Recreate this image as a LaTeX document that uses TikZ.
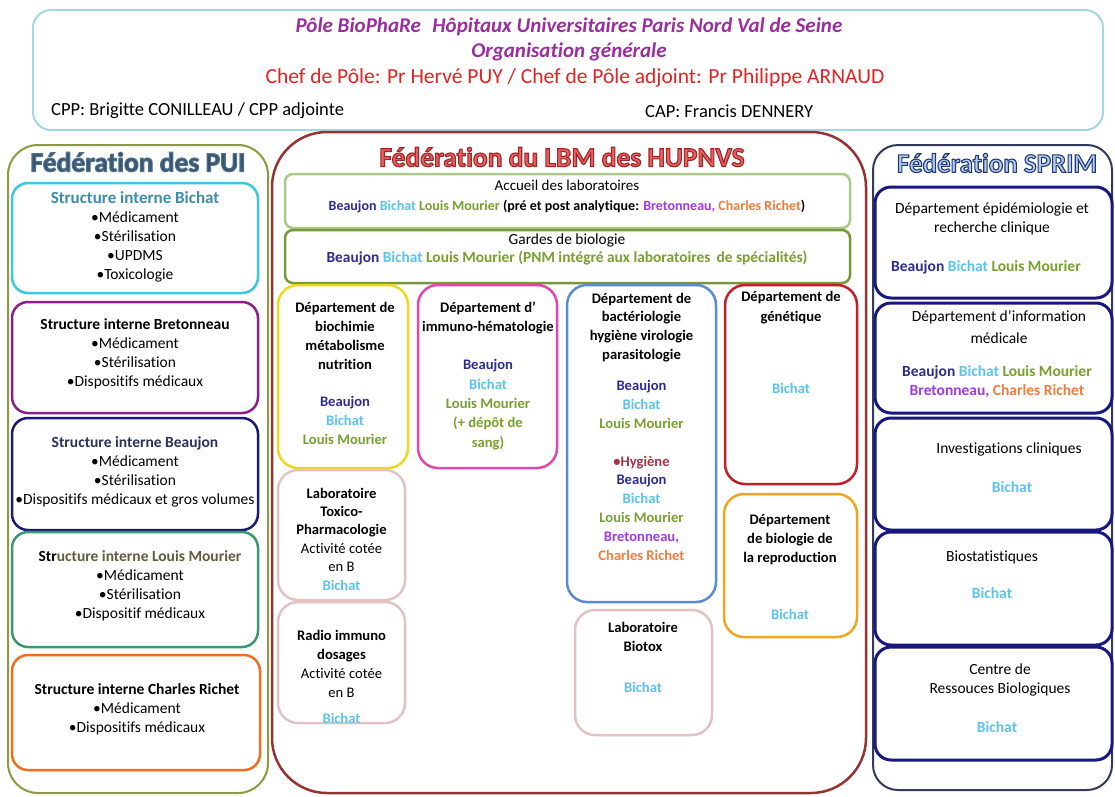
\documentclass[tikz,border=0pt]{standalone}
\usepackage{fontspec}
\setmainfont{Carlito}[Ligatures=NoCommon]
\definecolor{cbeau}{RGB}{45,45,145}
\definecolor{cbich}{RGB}{90,195,240}
\definecolor{clm}{RGB}{120,160,45}
\definecolor{cbret}{RGB}{160,60,225}
\definecolor{ccr}{RGB}{240,125,60}
\definecolor{ctitle}{RGB}{155,45,160}
\definecolor{cred}{RGB}{225,35,35}
\definecolor{chdr}{RGB}{165,215,225}
\definecolor{cpuifed}{RGB}{140,155,65}
\definecolor{cpuititle}{RGB}{55,85,115}
\definecolor{cbichbox}{RGB}{60,200,225}
\definecolor{cbichtxt}{RGB}{60,140,170}
\definecolor{cbretbox}{RGB}{140,30,140}
\definecolor{cbeaubox}{RGB}{25,25,120}
\definecolor{cbeautxt}{RGB}{40,50,90}
\definecolor{clmbox}{RGB}{60,150,110}
\definecolor{clmtxt}{RGB}{95,95,60}
\definecolor{ccrbox}{RGB}{240,110,30}
\definecolor{clbmfed}{RGB}{150,50,50}
\definecolor{clbmtitle}{RGB}{232,95,95}
\definecolor{cacc}{RGB}{170,200,140}
\definecolor{cgard}{RGB}{120,150,60}
\definecolor{cbioch}{RGB}{240,215,30}
\definecolor{cimmu}{RGB}{225,70,175}
\definecolor{cbact}{RGB}{90,140,210}
\definecolor{cgene}{RGB}{195,30,40}
\definecolor{cpink}{RGB}{225,195,195}
\definecolor{crepro}{RGB}{240,165,30}
\definecolor{chyg}{RGB}{165,50,70}
\definecolor{csprimfed}{RGB}{50,60,90}
\definecolor{csprimtitle}{RGB}{175,205,240}
\definecolor{csprimbox}{RGB}{25,25,125}
\newcommand\fsz[2]{\fontsize{#1}{#2}\selectfont}
\newcommand\hBj{\textcolor{cbeau}{Beaujon}}
\newcommand\hBi{\textcolor{cbich}{Bichat}}
\newcommand\hLM{\textcolor{clm}{Louis Mourier}}
\newcommand\hBr{\textcolor{cbret}{Bretonneau,}}
\newcommand\hCR{\textcolor{ccr}{Charles Richet}}
% outlined text: #1 = stroke colour as "r g b", #2 = text
\newcommand\outlinetext[2]{\special{pdf:literal direct 2 Tr 1.1 w #1 RG}#2\special{pdf:literal direct 0 Tr}}
\tikzset{
  frame/.style={draw, line width=2.5pt, rounded corners=16pt},
  pui/.style={align=center, inner sep=0pt, font=\fsz{15.5}{19}},
  dept/.style={align=center, inner sep=0pt, font=\bfseries\fsz{14.6}{18.8}},
  sprim/.style={align=center, inner sep=0pt, font=\fsz{15.5}{19}},
  fedtitle/.style={inner sep=0pt, font=\bfseries\fsz{27.5}{30}},
}
\begin{document}
\begin{tikzpicture}[x=1pt,y=-1pt]
\useasboundingbox[fill=white] (0,0) rectangle (1115,796);
% ---------------- header
\draw[chdr, line width=2pt, rounded corners=18pt] (33,10) rectangle (1103,130);
\node[inner sep=0pt, text=ctitle, font=\bfseries\itshape\fsz{21}{22}] (t1) at (569,27) {Pôle BioPhaRe\hspace{0.55em}Hôpitaux Universitaires Paris Nord Val de Seine};
\node[inner sep=0pt, text=ctitle, font=\bfseries\itshape\fsz{21}{22}] (t2) at (569,52) {Organisation générale};
\node[inner sep=0pt, text=cred, font=\fsz{21.5}{22}] (t3) at (575,78) {Chef de Pôle: Pr Hervé PUY / Chef de Pôle adjoint: Pr Philippe ARNAUD};
\node[inner sep=0pt, anchor=west, font=\fsz{18.5}{20}] (cpp) at (51,111) {CPP: Brigitte CONILLEAU / CPP adjointe};
\node[inner sep=0pt, anchor=west, font=\fsz{18.5}{20}] (cap) at (645,111) {CAP: Francis DENNERY};
% ---------------- Federation des PUI
\draw[cpuifed, line width=2pt, rounded corners=30pt] (8,145) rectangle (268,793);
\node[fedtitle, text=cpuititle] (puititle) at (138,162) {\outlinetext{0.32 0.45 0.55}{Fédération des PUI}};
\draw[frame, cbichbox] (12,183) rectangle (258,293);
\node[pui] (sbich) at (135,237) {\textcolor{cbichtxt}{\bfseries\fsz{17}{19}Structure interne Bichat}\\•Médicament\\•Stérilisation\\•UPDMS\\•Toxicologie};
\draw[frame, cbretbox] (12,302) rectangle (258,413);
\node[pui] (sbret) at (135,353.5) {\bfseries Structure interne Bretonneau\\•Médicament\\•Stérilisation\\•Dispositifs médicaux};
\draw[frame, cbeaubox] (12,418) rectangle (258,530);
\node[pui] (sbeau) at (135,471.5) {\textcolor{cbeautxt}{\bfseries Structure interne Beaujon}\\•Médicament\\•Stérilisation\\•Dispositifs médicaux et gros volumes};
\draw[frame, clmbox] (12,532) rectangle (258,647);
\node[pui] (slm) at (140,585.5) {{\bfseries Str\textcolor{clmtxt}{ucture interne Louis Mourier}}\\•Médicament\\•Stérilisation\\•Dispositif médicaux};
\draw[frame, ccrbox] (12,655) rectangle (260,770);
\node[pui] (scr) at (137,709) {\bfseries Structure interne Charles Richet\\•Médicament\\•Dispositifs médicaux};
% ---------------- Federation du LBM
\draw[clbmfed, line width=2.5pt, rounded corners=55pt] (272,132) rectangle (866,793);
\node[fedtitle, text=clbmtitle] (lbmtitle) at (562,157) {\outlinetext{0.62 0.15 0.15}{Fédération du LBM des HUPNVS}};
\draw[cacc, line width=2.5pt, rounded corners=8pt] (285,174) rectangle (850,228);
\node[align=center, inner sep=0pt, font=\bfseries\fsz{14}{20}] (accueil) at (567,196) {{\mdseries\fsz{15}{20}Accueil des laboratoires}\\\hBj{} \hBi{} \hLM{} (pré et post analytique: \hBr{} \hCR)};
\draw[cgard, line width=2.5pt, rounded corners=8pt] (285,230) rectangle (850,283);
\node[align=center, inner sep=0pt, font=\bfseries\fsz{15.4}{18}] (gardes) at (567,249) {{\mdseries Gardes de biologie}\\\hBj{} \hBi{} \textcolor{clm}{Louis Mourier (PNM intégré aux laboratoires\, de spécialités)}};
\draw[frame, cbioch, rounded corners=20pt] (278,285) rectangle (408,468);
\node[dept] (bioch) at (345,373.5) {Département de\\biochimie\\métabolisme\\nutrition\\[18.8pt]\hBj\\\hBi\\\hLM};
\draw[frame, cimmu, rounded corners=20pt] (418,285) rectangle (557,468);
\node[dept, font=\bfseries\fsz{14.6}{19.3}] (immu) at (488,375.5) {Département d’\\immuno-hématologie\\[19.3pt]\hBj\\\hBi\\\textcolor{clm}{Louis Mourier}\\\textcolor{clm}{(+ dépôt de}\\\textcolor{clm}{sang)}};
\draw[frame, cbact, rounded corners=20pt] (567,285) rectangle (716,602);
\node[dept] (bact) at (641.5,426.5) {Département de\\bactériologie\\hygiène virologie\\parasitologie\\[12.2pt]\hBj\\\hBi\\\hLM\\[19.2pt]\textcolor{chyg}{•Hygiène}\\\hBj\\\hBi\\\hLM\\\hBr\\\hCR};
\draw[frame, cgene, rounded corners=20pt] (725,285) rectangle (857,484);
\node[dept, font=\bfseries\fsz{14.6}{20}] (gene) at (791,308) {Département de\\génétique};
\node[dept] (genebi) at (791,388) {\hBi};
\draw[frame, cpink, rounded corners=20pt] (278,470) rectangle (405,600);
\node[dept, font=\bfseries\fsz{14.6}{18.4}] (toxico) at (341.5,539) {Laboratoire\\Toxico-\\Pharmacologie\\{\mdseries Activité cotée}\\{\mdseries en B}\\\hBi};
\draw[frame, cpink, rounded corners=20pt] (278,602) rectangle (405,723);
\node[dept, font=\bfseries\fsz{14.6}{19}] (radio) at (341.5,663.5) {Radio immuno\\dosages\\{\mdseries Activité cotée}\\{\mdseries en B}};
\node[dept] (radiobi) at (341.5,718) {\hBi};
\draw[frame, cpink, rounded corners=20pt] (575,610) rectangle (712,735);
\node[dept, font=\bfseries\fsz{14.6}{19}] (biotox) at (643,636.5) {Laboratoire\\Biotox};
\node[dept] (biotoxbi) at (643,687) {\hBi};
\draw[frame, crepro, rounded corners=20pt] (724,494) rectangle (857,637);
\node[dept] (repro) at (790,539.5) {Département\\de biologie de\\la reproduction};
\node[dept] (reprobi) at (790,614) {\hBi};
% ---------------- Federation SPRIM
\draw[csprimfed, line width=2pt, rounded corners=25pt] (873,145) rectangle (1112,790);
\node[fedtitle, text=csprimtitle, font=\bfseries\fsz{27}{30}] (sprimtitle) at (997,163) {\outlinetext{0.15 0.22 0.45}{Fédération SPRIM}};
\draw[frame, csprimbox, line width=3pt] (875,187) rectangle (1112,298);
\node[sprim] (epi) at (992,219) {Département épidémiologie et\\recherche clinique};
\node[sprim, font=\bfseries\fsz{15.5}{19}] (epih) at (986,267) {\hBj{} \hBi{} \hLM};
\draw[frame, csprimbox, line width=3pt] (875,303) rectangle (1112,413);
\node[sprim, font=\fsz{15.5}{22}] (dim) at (999,327) {Département d’information\\médicale};
\node[sprim, font=\bfseries\fsz{15.5}{19}] (dimh) at (997,381.5) {\hBj{} \hBi{} \hLM\\\hBr{} \hCR};
\draw[frame, csprimbox, line width=3pt] (875,418) rectangle (1112,530);
\node[sprim] (inv) at (1009,449) {Investigations cliniques};
\node[sprim, font=\bfseries\fsz{15.5}{19}] (invh) at (1012,487) {\hBi};
\draw[frame, csprimbox, line width=3pt] (875,532) rectangle (1112,645);
\node[sprim] (biost) at (992,557) {Biostatistiques};
\node[sprim, font=\bfseries\fsz{15.5}{19}] (biosth) at (992,593) {\hBi};
\draw[frame, csprimbox, line width=3pt] (875,647) rectangle (1112,760);
\node[sprim] (crb) at (1000,679.5) {Centre de\\Ressouces Biologiques};
\node[sprim, font=\bfseries\fsz{15.5}{19}] (crbh) at (997,727) {\hBi};
\end{tikzpicture}
\end{document}
